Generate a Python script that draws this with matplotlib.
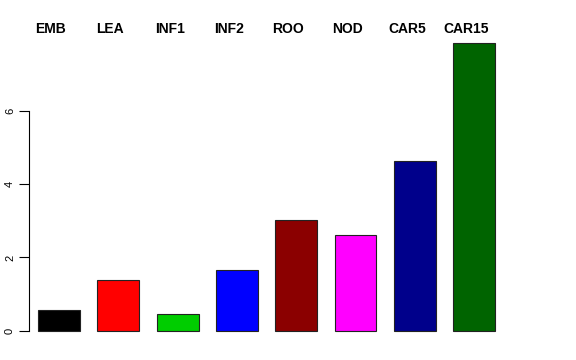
import matplotlib
matplotlib.use("Agg")
import matplotlib.pyplot as plt
from matplotlib.transforms import blended_transform_factory

categories = ["EMB", "LEA", "INF1", "INF2", "ROO", "NOD", "CAR5", "CAR15"]
values = [0.57, 1.39, 0.46, 1.66, 3.02, 2.62, 4.63, 7.85]
colors = ["#000000", "#FF0000", "#00CD00", "#0000FF", "#8B0000", "#FF00FF", "#00008B", "#006400"]
yticks = [0, 2, 4, 6]

fig = plt.figure(figsize=(5.76, 3.6), dpi=100)
W, H = 576, 360
left_px, right_px = 29, 524
bot_px, top_px = 342.5, 31
ax = fig.add_axes([left_px / W, (H - bot_px) / H, (right_px - left_px) / W, (bot_px - top_px) / H])

x = list(range(len(categories)))
ax.bar(x, values, width=0.708, color=colors, edgecolor="#222222", linewidth=0.8)

pitch = 59.3
c0 = 59
ax.set_xlim((left_px - c0) / pitch, (right_px - c0) / pitch)
ax.set_ylim(-0.314, 8.164)

for s in ["top", "right", "bottom"]:
    ax.spines[s].set_visible(False)
ax.spines["left"].set_bounds(0, 6)
ax.spines["left"].set_linewidth(0.8)
ax.set_xticks([])
ax.set_yticks(yticks)
ax.set_yticklabels([str(t) for t in yticks], rotation=90, va="center", fontsize=8, family="Liberation Sans")
ax.tick_params(axis="y", length=7, width=0.8, pad=3)

trans = blended_transform_factory(ax.transData, fig.transFigure)
for xi, c in zip(x, categories):
    ax.text(xi - 8 / pitch, (H - 29) / H, c, transform=trans, ha="center", va="center",
            fontsize=10, fontweight="bold", family="Liberation Sans")

fig.savefig("out.png", dpi=100)
